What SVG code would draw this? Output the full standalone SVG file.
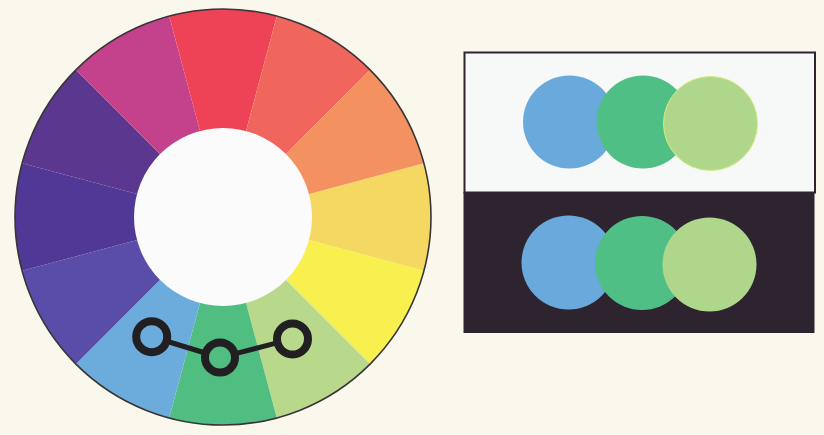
<svg xmlns="http://www.w3.org/2000/svg" xmlns:xlink="http://www.w3.org/1999/xlink" width="824" height="435" viewBox="0 0 824 435">
  <style>
    .ring { fill: none; stroke: #221f22; stroke-width: 8; }
    .link { stroke: #221f22; stroke-width: 5; stroke-linecap: round; }
    .blue { fill: #6aa9dc; }
    .green { fill: #4fbf85; }
    .lgreen { fill: #afd78b; }
  </style>
  <defs>
    <path id="wedge" d="M223,217 L423.9,163.2 A208,208 0 0,1 423.9,270.8 Z"/>
  </defs>
  <rect width="824" height="435" fill="#faf8ed"/>

  <g id="color-wheel">
    <use xlink:href="#wedge" href="#wedge" fill="#f5d862"/>
    <use xlink:href="#wedge" href="#wedge" fill="#f7f04e" transform="rotate(30 223 217)"/>
    <use xlink:href="#wedge" href="#wedge" fill="#b8d98c" transform="rotate(60 223 217)"/>
    <use xlink:href="#wedge" href="#wedge" fill="#4fbe80" transform="rotate(90 223 217)"/>
    <use xlink:href="#wedge" href="#wedge" fill="#6cacdc" transform="rotate(120 223 217)"/>
    <use xlink:href="#wedge" href="#wedge" fill="#5a4ca9" transform="rotate(150 223 217)"/>
    <use xlink:href="#wedge" href="#wedge" fill="#503896" transform="rotate(180 223 217)"/>
    <use xlink:href="#wedge" href="#wedge" fill="#5c3790" transform="rotate(210 223 217)"/>
    <use xlink:href="#wedge" href="#wedge" fill="#c4418b" transform="rotate(240 223 217)"/>
    <use xlink:href="#wedge" href="#wedge" fill="#ee4356" transform="rotate(270 223 217)"/>
    <use xlink:href="#wedge" href="#wedge" fill="#f1665c" transform="rotate(300 223 217)"/>
    <use xlink:href="#wedge" href="#wedge" fill="#f39260" transform="rotate(330 223 217)"/>
    <circle cx="223" cy="217" r="208" fill="none" stroke="#3a3436" stroke-width="1.6"/>
    <circle cx="223" cy="217" r="89" fill="#fbfbfb"/>
  </g>

  <g id="connectors">
    <line class="link" x1="170.8" y1="342.5" x2="202" y2="352"/>
    <line class="link" x1="238.4" y1="352.8" x2="274" y2="343.7"/>
  </g>
  <g id="ring-left"><circle class="ring" cx="151.7" cy="336.7" r="15.5"/></g>
  <g id="ring-middle"><circle class="ring" cx="220" cy="357.5" r="15"/></g>
  <g id="ring-right"><circle class="ring" cx="292.5" cy="339" r="15.5"/></g>

  <g id="panel-light">
    <rect x="464.5" y="52.5" width="350.5" height="140" fill="#f7f8f8" stroke="#2d2430" stroke-width="2"/>
    <circle class="blue" cx="569.5" cy="122" r="46.5"/>
    <circle class="green" cx="643" cy="122" r="46.5"/>
    <circle class="lgreen" cx="710.5" cy="123.5" r="47" stroke="#d6ec7a" stroke-width="1"/>
  </g>

  <g id="panel-dark">
    <rect x="463.5" y="192" width="351" height="141" fill="#2d2430"/>
    <circle class="blue" cx="568.5" cy="262.5" r="47"/>
    <circle class="green" cx="642" cy="263" r="47"/>
    <circle class="lgreen" cx="709.5" cy="264.5" r="47"/>
  </g>
</svg>
